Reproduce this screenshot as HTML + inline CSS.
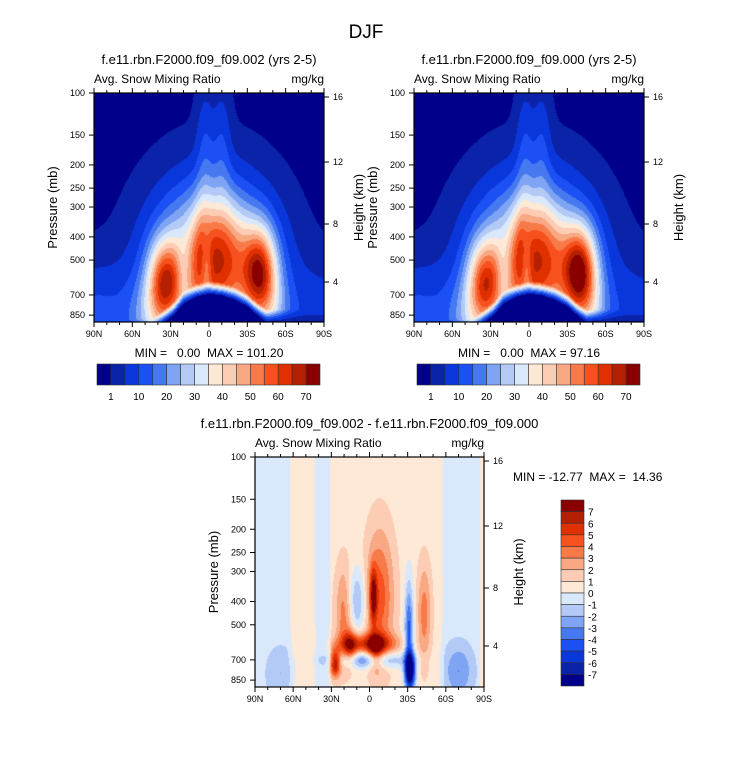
<!DOCTYPE html>
<html><head><meta charset="utf-8">
<style>
body{margin:0;background:#fff;}
#root{position:relative;width:733px;height:784px;font-family:"Liberation Sans",Arial,sans-serif;color:#000;}
canvas{position:absolute;}
svg{position:absolute;left:0;top:0;}
svg text{white-space:pre;}
</style></head>
<body>
<div id="root">
<canvas id="c1" width="230" height="229" style="left:94px;top:93px"></canvas>
<canvas id="c2" width="230" height="229" style="left:414px;top:93px"></canvas>
<canvas id="c3" width="229" height="230" style="left:255px;top:457px"></canvas>
<svg id="ov" width="733" height="784"></svg>
</div>
<script>
// ---- data ----
const colors = ["#00008a","#0a23a8","#0a37dc","#1c50f4","#4679f0","#7ea4f3","#b3c9f6","#d9e8fb","#fde9d6","#fccdb4","#f9a884","#f87a48","#f6511e","#e03000","#b52000","#8a0000"];
const topLevels = [1,5,10,15,20,25,30,35,40,45,50,55,60,65,70];
const topLabels = ["1","10","20","30","40","50","60","70"];
const diffLevels = [-7,-6,-5,-4,-3,-2,-1,0,1,2,3,4,5,6,7];
const latTicks = ["90N","60N","30N","0","30S","60S","90S"];
const presTicks = [100,150,200,250,300,400,500,700,850];
const kmTicks = [16,12,8,4];
// blobs: lat (N positive), pressure (mb), amplitude, sigma lat (deg), sigma log10 p
const blobLat1 = [-3,0,35,-40,-10,5,3,-10,45,-50,2,20,90,-90];
const blobP1   = [550,600,620,560,420,420,170,170,900,850,520,560,900,900];
const blobAmp1 = [52,6,40,45,12,10,8,8,15,12,-15,-10,12,8];
const blobSLat1= [29,30,9,9,12,5,5,5,12,10,3,4,25,25];
const blobSP1  = [0.22,0.25,0.12,0.13,0.14,0.14,0.18,0.18,0.12,0.12,0.1,0.1,0.16,0.16];
const blobAmp2 = [52,6,36,50,11,12,8,8,15,12,-15,-10,12,8];
// dome (snow-free surface region) boundary
const domeLat = [45,35,28,20,10,0,-10,-20,-30,-38,-45];
const domeP   = [1000,908,850,760,710,690,700,730,780,850,908];
// difference field
const diffBgLat = [90,86,80,65,60,45,40,32,30,0,-30,-55,-60,-85,-88,-90];
const diffBgVal = [-0.5,-0.5,-0.5,-0.5,0.5,0.5,-0.5,-0.5,0.5,0.5,0.5,0.5,-0.5,-0.5,0.5,0.5];
const dLat = [0,-8,-3,20,27,10,-31,-32,0,-43,-70,70,-5,15];
const dP   = [600,380,380,450,720,400,550,780,700,450,780,800,650,620];
const dAmp = [5,4,5,3,7,-3,-5,-8,-4,3,-2.5,-1.5,4,4];
const dSLat= [15,8,2,5,3,5,2.5,3,20,4,8,8,4,4];
const dSP  = [0.03,0.2,0.08,0.15,0.04,0.1,0.15,0.05,0.025,0.15,0.08,0.08,0.05,0.05];

// ---- axis functions ----
const PBOT=Math.pow(10,2+229/239);
function yOfP(p,h){return (Math.log10(p)-2)/(Math.log10(PBOT)-2)*h;}
function pOfY(y,h){return Math.pow(10,2+y/h*(Math.log10(PBOT)-2));}
function latOfX(x,w){return 90-180*x/w;}
function xOfLat(lat,w){return (90-lat)/180*w;}
function interp(xs,ys,x){
  if(x>=xs[0])return ys[0]; if(x<=xs[xs.length-1])return ys[ys.length-1];
  for(let i=0;i<xs.length-1;i++){if(x<=xs[i]&&x>=xs[i+1]){const t=(xs[i]-x)/(xs[i]-xs[i+1]);return ys[i]+t*(ys[i+1]-ys[i]);}}
}
function blobSum(lat,p,L,P,A,SL,SP){
  let v=0;const lp=Math.log10(p);
  for(let i=0;i<L.length;i++){const a=(lat-L[i])/SL[i],b=(lp-Math.log10(P[i]))/SP[i];v+=A[i]*Math.exp(-0.5*(a*a+b*b));}
  return v;
}
function colorIdx(v,levels){let i=0;while(i<levels.length&&v>=levels[i])i++;return i;}
function hex(c){return [parseInt(c.substr(1,2),16),parseInt(c.substr(3,2),16),parseInt(c.substr(5,2),16)];}
const rgb=colors.map(hex);
function drawField(id,fn,levels){
  const cv=document.getElementById(id),ctx=cv.getContext('2d'),w=cv.width,h=cv.height;
  const img=ctx.createImageData(w,h);
  for(let y=0;y<h;y++)for(let x=0;x<w;x++){
    const v=fn(latOfX(x+0.5,w),pOfY(y+0.5,h),y,h);
    const c=rgb[colorIdx(v,levels)];const k=(y*w+x)*4;
    img.data[k]=c[0];img.data[k+1]=c[1];img.data[k+2]=c[2];img.data[k+3]=255;
  }
  ctx.putImageData(img,0,0);
}
function topField(amps){return function(lat,p,y,h){
  let v=blobSum(lat,p,blobLat1,blobP1,amps,blobSLat1,blobSP1);
  const dp=interp(domeLat,domeP,lat);
  const d=yOfP(dp,h)-y;
  if(d<0) return 0.3;
  if(d<13) v*=d/13;
  return v;
};}
drawField('c1',topField(blobAmp1),topLevels);
drawField('c2',topField(blobAmp2),topLevels);
drawField('c3',function(lat,p){
  return interp(diffBgLat,diffBgVal,lat)+blobSum(lat,p,dLat,dP,dAmp,dSLat,dSP);
},diffLevels);

// ---- SVG overlay ----
const S='http://www.w3.org/2000/svg',ov=document.getElementById('ov');
function el(tag,attrs,txt){const e=document.createElementNS(S,tag);for(const k in attrs)e.setAttribute(k,attrs[k]);if(txt!==undefined)e.textContent=txt;ov.appendChild(e);return e;}
function text(x,y,s,size,anchor,name,rot){
  const a={x:x,y:y,'font-size':size,'text-anchor':anchor||'middle','font-family':'Liberation Sans, Arial, sans-serif'};
  if(rot)a.transform='rotate(-90 '+x+' '+y+')';
  const t=el('text',a,s);
  
  
  return t;
}
const kmOff=[4,69,131,189];
function panel(x0,y0,w,h,title,minmax,key){
  const fr=el('rect',{x:x0,y:y0,width:w,height:h,fill:'none',stroke:'#000','stroke-width':1.2});
  
  
  text(x0+w/2,y0-29,title,13,'middle',key+'-title');
  text(x0,y0-10,'Avg. Snow Mixing Ratio',12,'start',key+'-subtitle');
  text(x0+w,y0-10,'mg/kg',12,'end',key+'-units');
  for(let lat=90;lat>=-90;lat-=10){
    const x=x0+xOfLat(lat,w),maj=(lat%30===0);
    const L=maj?5:3;
    el('line',{x1:x,y1:y0+h,x2:x,y2:y0+h+L,stroke:'#000'});
    el('line',{x1:x,y1:y0,x2:x,y2:y0-L,stroke:'#000'});
  }
  latTicks.forEach((s,i)=>{text(x0+w*i/6,y0+h+15,s,9,'middle',key+'-lat-label');});
  presTicks.forEach(p=>{const y=y0+yOfP(p,h);el('line',{x1:x0,y1:y,x2:x0-5,y2:y,stroke:'#000'});text(x0-9,y+3,String(p),9,'end',key+'-pressure-label');});
  kmTicks.forEach((k,i)=>{const y=y0+kmOff[i];el('line',{x1:x0+w,y1:y,x2:x0+w+5,y2:y,stroke:'#000'});text(x0+w+9,y+3,String(k),9,'start',key+'-height-label');});
  text(x0-37,y0+h/2,'Pressure (mb)',13,'middle',key+'-y-axis-title',true);
  text(x0+w+39,y0+h/2,'Height (km)',13,'middle',key+'-y2-axis-title',true);
  if(minmax)text(x0+w/2,y0+h+35,minmax,12,'middle',key+'-minmax');
}
text(366,38,'DJF',19,'middle','main-title');
panel(94,93,230,229,'f.e11.rbn.F2000.f09_f09.002 (yrs 2-5)','MIN =   0.00  MAX = 101.20','panel1');
panel(414,93,230,229,'f.e11.rbn.F2000.f09_f09.000 (yrs 2-5)','MIN =   0.00  MAX = 97.16','panel2');
panel(255,457,229,230,'f.e11.rbn.F2000.f09_f09.002 - f.e11.rbn.F2000.f09_f09.000',null,'panel3');
text(513,481,'MIN = -12.77  MAX =  14.36',12,'start','panel3-minmax');
function hbar(x0,key){
  const w=223/16;
  colors.forEach((c,i)=>{const r=el('rect',{x:x0+i*w,y:364,width:w,height:21,fill:c,stroke:'#333','stroke-width':0.6});
    });
  topLabels.forEach((s,i)=>{text(x0+w*(1+2*i),400,s,10,'middle',key+'-label');});
}
hbar(97,'labelbar1');hbar(417,'labelbar2');
const vh=186/16;
colors.slice().reverse().forEach((c,i)=>{const r=el('rect',{x:561,y:500+i*vh,width:23,height:vh,fill:c,stroke:'#333','stroke-width':0.6});
  });
diffLevels.slice().reverse().forEach((v,i)=>{text(588,500+vh*(i+1)+4,String(v),10,'start','diff-colorbar-label');});
</script>
</body></html>
